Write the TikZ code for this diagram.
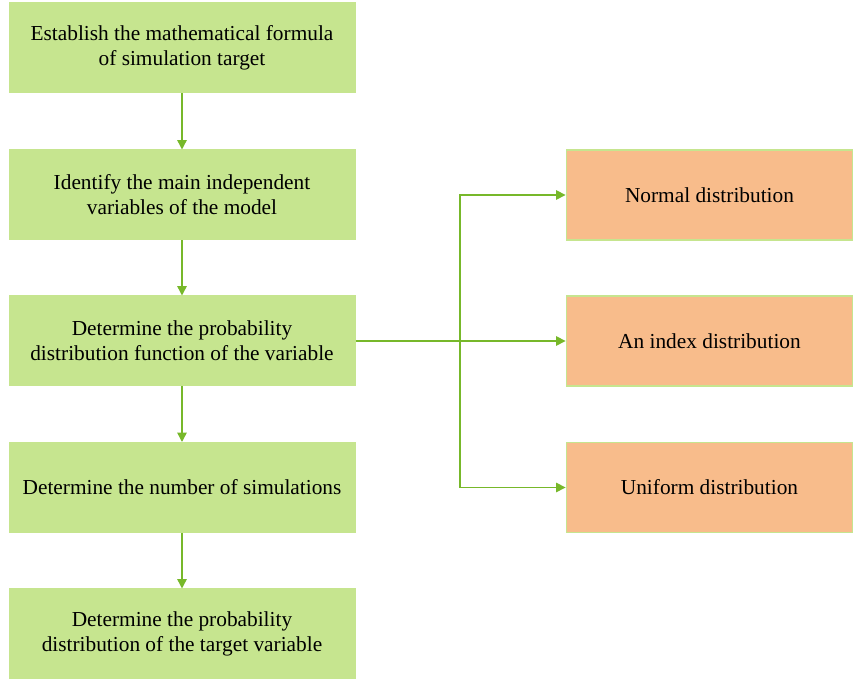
\documentclass[tikz,border=0pt]{standalone}
\usepackage{fontspec}
\setmainfont{Liberation Serif}
\usetikzlibrary{arrows.meta}
\definecolor{boxgreen}{HTML}{C6E58F}
\definecolor{boxorange}{HTML}{F8BC8B}
\definecolor{arrgreen}{HTML}{77B82A}
\tikzset{
  gbox/.style={fill=boxgreen, draw=boxgreen, line width=0.75pt, minimum width=259.5pt, minimum height=67.5pt, align=center, inner sep=0pt, font=\fontsize{16}{18.75}\selectfont},
  obox/.style={fill=boxorange, draw=boxgreen, line width=0.9pt, minimum width=215pt, minimum height=67.5pt, align=center, inner sep=0pt, font=\fontsize{16}{18.75}\selectfont},
  arr/.style={draw=arrgreen, line width=1.1pt, -{Triangle[length=7pt,width=7pt]}}
}
\begin{document}
\begin{tikzpicture}[x=0.75pt,y=-0.75pt]
\useasboundingbox (0,0) rectangle (854,680);
\node[gbox] (b1) at (182,48) {Establish the mathematical formula\\of simulation target};
\node[gbox] (b2) at (182,195) {Identify the main independent\\variables of the model};
\node[gbox] (b3) at (182,341) {Determine the probability\\distribution function of the variable};
\node[gbox] (b4) at (182,487.5) {Determine the number of simulations};
\node[gbox] (b5) at (182,634) {Determine the probability\\distribution of the target variable};
\node[obox] (r1) at (709.5,195) {Normal distribution};
\node[obox] (r2) at (709.5,341) {An index distribution};
\node[obox] (r3) at (709.5,487.5) {Uniform distribution};
\draw[arr] (b1) -- (b2);
\draw[arr] (b2) -- (b3);
\draw[arr] (b3) -- (b4);
\draw[arr] (b4) -- (b5);
\coordinate (j) at (460,341);
\draw[arr] (b3.east) -- (r2.west);
\draw[arr] (j) |- (r1.west);
\draw[arr] (j) |- (r3.west);
\end{tikzpicture}
\end{document}
